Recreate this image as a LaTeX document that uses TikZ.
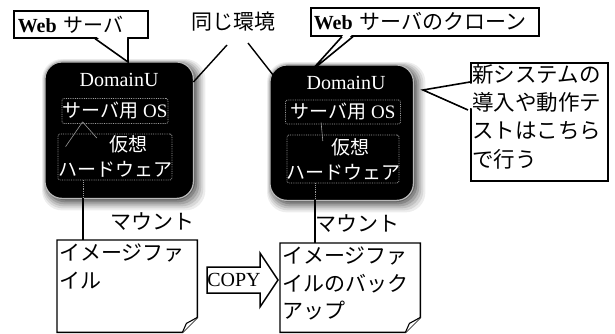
\documentclass[tikz,border=0pt]{standalone}
\usepackage{fontspec}
\setmainfont{Liberation Serif}
\newfontfamily\jp{Noto Sans CJK JP}
\usetikzlibrary{calc}
\begin{document}
\begin{tikzpicture}[x=1pt,y=-1pt,
  every node/.style={inner sep=0pt},
  calloutbox/.style={draw, line width=1.6pt, fill=white, anchor=north west},
  jtext/.style={font=\jp\fontsize{21}{27.5}\selectfont},
  wlatin/.style={text=white, font=\fontsize{20}{24}\selectfont},
  wjp/.style={text=white, font=\jp\fontsize{19}{25}\selectfont},
  innerbox/.style={draw=gray!75, densely dotted, line width=0.8pt, rounded corners=2pt},
  conn/.style={line width=1.4pt},
  fileline/.style={line width=1.4pt},
]
\useasboundingbox (0,0) rectangle (615,334);

% ---------- dark boxes ----------
\node[anchor=north west, minimum width=148pt, minimum height=136pt] (d1) at (45,62) {};
\node[anchor=north west, minimum width=143pt, minimum height=135pt] (d2) at (270,65) {};
\foreach \dd in {d1,d2}{
  \foreach \e/\o in {12/0.07,10/0.09,8/0.11,6/0.14,4/0.18,2/0.24}{
    \fill[black, opacity=\o, rounded corners=20pt]
      ($(\dd.north west)+(2.5-\e*0.45,2.5-\e*0.45)$) rectangle ($(\dd.south east)+(\e,\e)$);
  }
  \fill[black, rounded corners=17pt] (\dd.north west) rectangle (\dd.south east);
  \draw[gray!55, line width=1.2pt, rounded corners=17pt] (\dd.north west) rectangle (\dd.south east);
}

% box 1 contents
\node[wlatin] (du1) at (119,80) {DomainU};
\node[innerbox, minimum width=106pt, minimum height=25pt] (os1) at (115,111) {};
\node[text=white, font=\fontsize{19}{24}\selectfont] (ost1) at (115,111) {{\jp サーバ用} OS};
\node[innerbox, minimum width=114pt, minimum height=46pt] (hw1) at (115,157) {};
\node[wjp] (ks1) at (128,144) {仮想};
\node[wjp] (hwt1) at (115,169) {ハードウェア};
\draw[gray!80, line width=0.6pt] ($(os1.south west)+(21,-2)$) -- ($(ks1.west)+(-12,-6)$);
\draw[gray!80, line width=0.6pt] ($(os1.south west)+(21,-2)$) -- ($(hw1.north west)+(8,13)$);

% box 2 contents
\node[wlatin] (du2) at (346,83) {DomainU};
\node[innerbox, minimum width=115pt, minimum height=24pt] (os2) at (343,112) {};
\node[text=white, font=\fontsize{19}{24}\selectfont] (ost2) at (343,112) {{\jp サーバ用} OS};
\node[innerbox, minimum width=112pt, minimum height=48pt] (hw2) at (343,159) {};
\node[wjp] (ks2) at (350,147) {仮想};
\node[wjp] (hwt2) at (343,172) {ハードウェア};
\draw[gray!80, line width=0.6pt] ($(os2.south west)+(36,-2)$) -- ($(ks2.west)+(-8,-6)$);

% ---------- same environment ----------
\node[jtext] (same) at (233,22) {同じ環境};
\draw[conn] ($(same.center)+(-6,23)$) -- ($(d1.north east)+(0,20)$);
\draw[conn] ($(same.center)+(15,21)$) -- ($(d2.north west)+(7,15)$);

% ---------- image files ----------
\node[anchor=north west, minimum width=140pt, minimum height=92pt] (f1) at (57,240) {};
\node[anchor=north west, minimum width=140pt, minimum height=89pt] (f2) at (280,243) {};
\foreach \ff in {f1,f2}{
  \filldraw[fill=white, fileline] (\ff.north west) -- (\ff.north east) -- ($(\ff.south east)+(0,-15)$)
     -- ($(\ff.south east)+(-15,0)$) -- (\ff.south west) -- cycle;
  \filldraw[fill=white, line width=1.1pt] ($(\ff.south east)+(0,-15)$) -- ($(\ff.south east)+(-11,-9)$)
     -- ($(\ff.south east)+(-15,0)$);
}
\node[jtext, anchor=north west, align=left] (t1) at ($(f1.north west)+(2,4)$) {イメージファ\\イル};
\node[jtext, anchor=north west, align=left] (t2) at ($(f2.north west)+(2,4)$) {イメージファ\\イルのバック\\アップ};

% mount lines
\coordinate (m1) at (83,0);
\coordinate (m2) at (315,0);
\draw[gray!80, densely dotted, line width=0.8pt] (hw1.south -| m1) -- (d1.south -| m1);
\draw[gray!80, densely dotted, line width=0.8pt] (hw2.south -| m2) -- (d2.south -| m2);
\draw[conn] (d1.south -| m1) -- (f1.north -| m1);
\draw[conn] (d2.south -| m2) -- (f2.north -| m2);
\node[jtext] (mt1) at (152,222) {マウント};
\node[jtext] (mt2) at (357,224) {マウント};

% COPY arrow
\coordinate (cpc) at (234,280);
\filldraw[fill=white, line width=1.5pt] ($(cpc)+(-27,-13)$) -- ($(cpc)+(26,-13)$) -- ($(cpc)+(26,-27)$)
  -- ($(cpc)+(44,0)$) -- ($(cpc)+(26,27)$) -- ($(cpc)+(26,13)$) -- ($(cpc)+(-27,13)$) -- cycle;
\node[font=\fontsize{20}{24}\selectfont] (cp) at (cpc) {COPY};

% ---------- callouts ----------
% callout 1
\node[calloutbox, text width=126pt, minimum height=27pt, inner xsep=4pt, align=left,
      font=\fontsize{20}{24}\selectfont] (c1) at (13,10) {\textbf{Web} {\jp サーバ}};
\coordinate (tip1) at (128,62);
\fill[white] ($(c1.south west)+(83.5,-1.8)$) -- (tip1) -- ($(c1.south west)+(114,-1.8)$) -- cycle;
\draw[line width=1.6pt] ($(c1.south west)+(82,0)$) -- (tip1) -- ($(c1.south west)+(115,0)$);

% callout 2
\node[calloutbox, text width=222pt, minimum height=28pt, inner xsep=3pt, align=left,
      font=\fontsize{20}{24}\selectfont] (c2) at (310,7) {\textbf{Web} {\jp\fontsize{21}{24}\selectfont サーバのクローン}};
\coordinate (tip2) at (311,71);
\fill[white] ($(c2.south west)+(33.5,-1.8)$) -- (tip2) -- ($(c2.south west)+(42,-1.8)$) -- cycle;
\draw[line width=1.6pt] ($(c2.south west)+(32,0)$) -- (tip2) -- ($(c2.south west)+(43,0)$);

% callout 3
\node[calloutbox, minimum width=137pt, minimum height=118pt] (c3) at (470,62) {};
\node[anchor=north west, align=left, font=\jp\fontsize{21.5}{28.3}\selectfont] (c3t) at (472,64)
  {新システムの\\導入や動作テ\\ストはこちら\\で行う};
\coordinate (tip3) at (423,90);
\fill[white] ($(c3.north west)+(1.8,21.5)$) -- (tip3) -- ($(c3.north west)+(1.8,46.5)$) -- cycle;
\draw[line width=1.6pt] ($(c3.north west)+(0,20)$) -- (tip3) -- ($(c3.north west)+(-2,48)$);
\end{tikzpicture}
\end{document}
